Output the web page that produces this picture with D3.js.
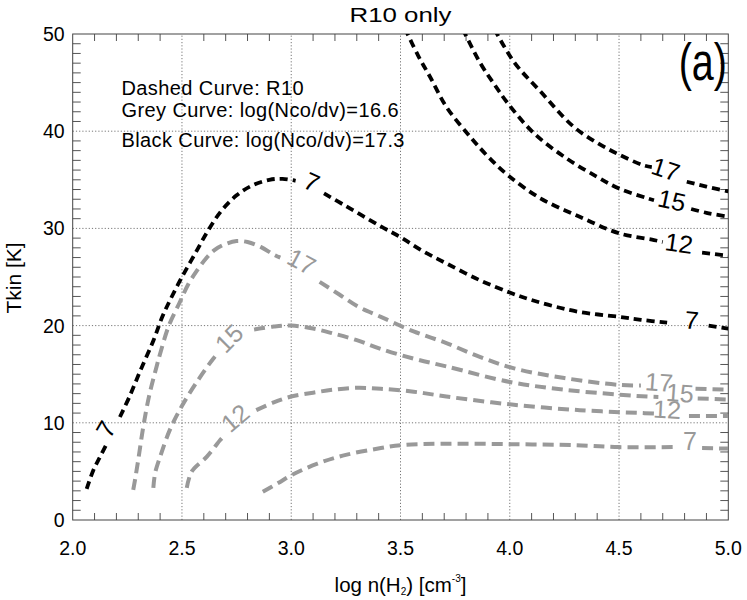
<!DOCTYPE html>
<html>
<head>
<meta charset="utf-8">
<script src="https://cdn.jsdelivr.net/npm/d3@7"></script>
<style>
  body { margin: 0; background: #fff; }
  text { font-family: "Liberation Sans", Arial, Helvetica, sans-serif; }
</style>
</head>
<body>
<div id="chart"></div>
<script>
// axis ticks
const xMajor = [2.0, 2.5, 3.0, 3.5, 4.0, 4.5, 5.0];
const yMajor = [0, 10, 20, 30, 40, 50];

// contour lines, [log n(H2), Tkin]; null = break for a label
const black7 = [[2.064, 3.2], [2.094, 5.1], [2.125, 6.5], [2.157, 7.9], null,
  [2.216, 10.6], [2.26, 12.7], [2.31, 15.4], [2.37, 18.5], [2.41, 20.9], [2.445, 22.6], [2.5, 25.0],
  [2.56, 27.4], [2.62, 29.8], [2.68, 31.8], [2.75, 33.4], [2.82, 34.4], [2.9, 35.0], [2.96, 35.1], [3.02, 34.9], null,
  [3.15, 33.6], [3.25, 32.3], [3.41, 30.2], [3.5, 29.1], [3.6, 27.7], [3.71, 26.4], [3.86, 24.7], [4.0, 23.4],
  [4.09, 22.7], [4.2, 22.0], [4.32, 21.4], [4.5, 20.9], [4.6, 20.6], [4.72, 20.3], null,
  [4.91, 20.0], [5.0, 19.7]];
const black12 = [[3.52, 50.6], [3.58, 47.8], [3.635, 45.6], [3.71, 42.5], [3.82, 39.4], [3.9, 37.4], [3.99, 35.5],
  [4.14, 33.1], [4.32, 31.2], [4.5, 29.5], [4.66, 28.8], [4.70, 28.6], null,
  [4.88, 27.5], [5.0, 27.2]];
const black15 = [[3.785, 50.5], [3.865, 47.0], [3.93, 44.8], [3.99, 42.9], [4.11, 39.8], [4.26, 37.2], [4.4, 35.3],
  [4.5, 34.1], [4.63, 33.1], [4.66, 32.9], null,
  [4.83, 32.0], [4.9, 31.6], [5.0, 31.2]];
const black17 = [[3.93, 50.5], [4.02, 47.1], [4.14, 44.1], [4.29, 40.5], [4.4, 38.8], [4.5, 37.6], [4.61, 36.5], [4.65, 36.3], null,
  [4.81, 34.8], [4.9, 34.3], [5.0, 33.8]];

const grey7 = [[2.87, 2.9], [2.94, 3.8], [3.0, 4.6], [3.12, 5.8], [3.25, 6.7], [3.41, 7.4], [3.5, 7.7], [3.7, 7.85],
  [4.0, 7.8], [4.3, 7.7], [4.5, 7.5], [4.75, 7.5], null,
  [4.88, 7.4], [5.0, 7.35]];
const grey12 = [[2.522, 3.3], [2.545, 5.0], [2.613, 6.5], [2.674, 8.2], [2.69, 8.6], null,
  [2.84, 11.3], [2.92, 12.1], [3.0, 12.7], [3.1, 13.1], [3.19, 13.4], [3.3, 13.6], [3.41, 13.5], [3.56, 13.2],
  [3.71, 12.7], [4.0, 11.9], [4.32, 11.3], [4.61, 11.0], [4.66, 10.95], null,
  [4.82, 10.7], [5.0, 10.7]];
const grey15 = [[2.369, 3.3], [2.377, 4.8], [2.40, 6.5], [2.445, 9.3], [2.499, 11.7], [2.568, 14.2], [2.643, 16.6], [2.67, 17.3], null,
  [2.83, 19.6], [2.92, 19.9], [3.0, 20.0], [3.1, 19.7], [3.19, 19.2], [3.3, 18.5], [3.41, 17.6], [3.56, 16.6],
  [3.71, 15.8], [4.0, 14.2], [4.25, 13.4], [4.5, 12.9], [4.63, 12.7], [4.68, 12.65], null,
  [4.86, 12.5], [5.0, 12.4]];
const grey17 = [[2.277, 3.1], [2.285, 4.1], [2.30, 6.2], [2.323, 9.6], [2.35, 12.8], [2.384, 15.8], [2.40, 17.1],
  [2.44, 20.0], [2.49, 22.4], [2.53, 24.3], [2.57, 25.7], [2.61, 26.9], [2.65, 27.8], [2.70, 28.4], [2.75, 28.7],
  [2.80, 28.6], [2.86, 28.1], [2.92, 27.3], [2.95, 27.0], null,
  [3.13, 24.5], [3.22, 23.2], [3.31, 21.9], [3.41, 20.9], [3.56, 19.4], [3.71, 18.2], [3.86, 16.8], [4.02, 15.6],
  [4.25, 14.6], [4.5, 13.9], [4.6, 13.85], null,
  [4.85, 13.5], [5.0, 13.4]];

// contour labels: text, x, T, angle
const blackLabels = [["7", 2.151, 9.36, -60], ["7", 3.094, 34.8, 25], ["7", 4.833, 20.6, 5],
  ["12", 4.774, 28.5, 8], ["15", 4.742, 32.9, 12], ["17", 4.714, 36.1, 18]];
const greyLabels = [["17", 3.048, 26.6, 28], ["15", 2.715, 18.7, -45], ["12", 2.743, 10.5, -40],
  ["17", 4.683, 14.2, 4], ["15", 4.779, 13.1, 4], ["12", 4.72, 11.4, 3], ["7", 4.825, 8.1, 0]];

const notes = ["Dashed Curve: R10", "Grey Curve: log(Nco/dv)=16.6", "Black Curve: log(Nco/dv)=17.3"];

const width = 747, height = 600;
const margin = {top: 34, right: 18.7, bottom: 80, left: 72.7};
const grey = '#999999';

const svg = d3.select('#chart').append('svg')
  .attr('width', width)
  .attr('height', height);

const x = d3.scaleLinear().domain([2, 5]).range([margin.left, width - margin.right]);
const y = d3.scaleLinear().domain([0, 50]).range([height - margin.bottom, margin.top]);

svg.append('defs').append('clipPath').attr('id', 'plot')
  .append('rect')
  .attr('x', x(2)).attr('y', y(50))
  .attr('width', x(5) - x(2)).attr('height', y(0) - y(50));

// grid (major ticks drawn as dotted lines)
svg.append('g').selectAll('line')
  .data(xMajor.slice(1, -1))
  .enter().append('line')
  .attr('x1', d => x(d)).attr('x2', d => x(d))
  .attr('y1', y(0)).attr('y2', y(50))
  .attr('stroke', '#777').attr('stroke-width', 1).attr('stroke-dasharray', '1.2,2');

svg.append('g').selectAll('line')
  .data(yMajor.slice(1, -1))
  .enter().append('line')
  .attr('y1', d => y(d)).attr('y2', d => y(d))
  .attr('x1', x(2)).attr('x2', x(5))
  .attr('stroke', '#777').attr('stroke-width', 1).attr('stroke-dasharray', '1.2,2');

// minor ticks
const xMinor = d3.range(21, 50).map(d => d / 10).filter(d => Math.abs(d * 2 - Math.round(d * 2)) > 1e-6);
const yMinor = d3.range(1, 50).filter(d => d % 10 !== 0);

const ticks = svg.append('g').attr('stroke', '#555').attr('stroke-width', 1);
ticks.selectAll('.xb').data(xMinor).enter().append('line')
  .attr('x1', d => x(d)).attr('x2', d => x(d)).attr('y1', y(0)).attr('y2', y(0) - 7);
ticks.selectAll('.xt').data(xMinor).enter().append('line')
  .attr('x1', d => x(d)).attr('x2', d => x(d)).attr('y1', y(50)).attr('y2', y(50) + 7);
ticks.selectAll('.yl').data(yMinor).enter().append('line')
  .attr('y1', d => y(d)).attr('y2', d => y(d)).attr('x1', x(2)).attr('x2', x(2) + 8);
ticks.selectAll('.yr').data(yMinor).enter().append('line')
  .attr('y1', d => y(d)).attr('y2', d => y(d)).attr('x1', x(5)).attr('x2', x(5) - 8);

svg.append('rect')
  .attr('x', x(2)).attr('y', y(50))
  .attr('width', x(5) - x(2)).attr('height', y(0) - y(50))
  .attr('fill', 'none').attr('stroke', '#444').attr('stroke-width', 1);

// tick labels
svg.append('g').selectAll('text')
  .data(xMajor)
  .enter().append('text')
  .attr('x', d => x(d)).attr('y', y(0) + 35)
  .attr('text-anchor', 'middle')
  .attr('font-size', 19.5)
  .text(d => d.toFixed(1));

svg.append('g').selectAll('text')
  .data(yMajor)
  .enter().append('text')
  .attr('x', x(2) - 8).attr('y', d => y(d) + 7)
  .attr('text-anchor', 'end')
  .attr('font-size', 19.5)
  .text(d => d);

// contours
const line = d3.line()
  .defined(d => d !== null)
  .x(d => x(d[0]))
  .y(d => y(d[1]))
  .curve(d3.curveCatmullRom.alpha(0.5));

const curves = svg.append('g').attr('clip-path', 'url(#plot)').attr('fill', 'none');

[grey7, grey12, grey15, grey17].forEach(c => {
  curves.append('path')
    .attr('d', line(c))
    .attr('stroke', grey).attr('stroke-width', 4)
    .attr('stroke-dasharray', '11,6');
});
[black7, black12, black15, black17].forEach(c => {
  curves.append('path')
    .attr('d', line(c))
    .attr('stroke', '#000').attr('stroke-width', 3.8)
    .attr('stroke-dasharray', '8,5');
});

function drawLabels (data, color) {
  svg.append('g').selectAll('text')
    .data(data)
    .enter().append('text')
    .attr('transform', d => 'translate(' + x(d[1]) + ',' + y(d[2]) + ') rotate(' + d[3] + ')')
    .attr('text-anchor', 'middle')
    .attr('dy', '0.36em')
    .attr('font-size', 25)
    .attr('fill', color)
    .text(d => d[0]);
}
drawLabels(greyLabels, grey);
drawLabels(blackLabels, '#000');

// notes
svg.append('g').selectAll('text')
  .data(notes)
  .enter().append('text')
  .attr('x', 121.5)
  .attr('y', (d, i) => [95, 117, 147][i])
  .attr('font-size', 20)
  .attr('letter-spacing', 0.4)
  .text(d => d);

svg.append('text')
  .attr('transform', 'translate(727,80) scale(0.76,1)')
  .attr('text-anchor', 'end')
  .attr('font-size', 52)
  .text('(a)');

// titles
svg.append('text')
  .attr('x', (x(2) + x(5)) / 2).attr('y', 22)
  .attr('text-anchor', 'middle')
  .attr('font-size', 21)
  .attr('textLength', 102).attr('lengthAdjust', 'spacingAndGlyphs')
  .text('R10 only');

const xt = svg.append('text')
  .attr('x', (x(2) + x(5)) / 2).attr('y', 591.5)
  .attr('text-anchor', 'middle')
  .attr('font-size', 20.5);
xt.append('tspan').text('log n(H');
xt.append('tspan').attr('font-size', 10).attr('dy', 3).text('2');
xt.append('tspan').attr('dy', -3).text(') [cm');
xt.append('tspan').attr('font-size', 10).attr('dy', -10).text('-3');
xt.append('tspan').attr('dy', 10).text(']');

svg.append('text')
  .attr('transform', 'translate(21,278) rotate(-90)')
  .attr('text-anchor', 'middle')
  .attr('font-size', 21)
  .text('Tkin [K]');
</script>
</body>
</html>
